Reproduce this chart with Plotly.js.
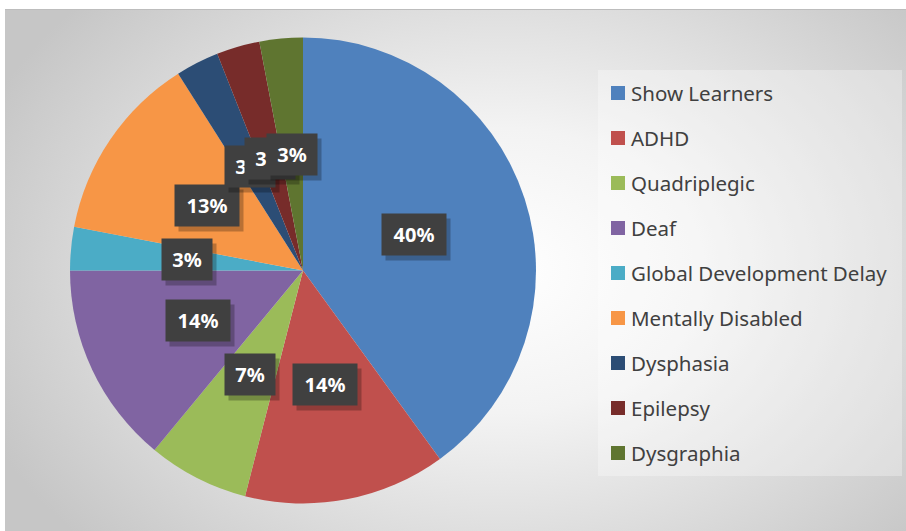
<!DOCTYPE html>
<html>
<head>
<meta charset="utf-8">
<script src="https://cdn.plot.ly/plotly-3.0.1.min.js"></script>
<style>
  html, body { margin: 0; padding: 0; background: #ffffff; }
  #wrap { position: relative; width: 906px; height: 531px; overflow: hidden; background: #ffffff; }
  #bg { position: absolute; left: 5px; top: 9px; width: 901px; height: 522px;
        border-top: 1px solid #bdbdbd; box-sizing: border-box;
        background: radial-gradient(ellipse 62% 78% at 55% 50%, #ffffff 0%, #f3f3f3 35%, #c6c6c6 100%); }
  #chart { position: absolute; left: 0; top: 0; width: 906px; height: 531px; }
</style>
</head>
<body>
<div id="wrap">
  <div id="bg"></div>
  <div id="chart"></div>
</div>
<script>
// ---- data ----
const categories = ["Show Learners", "ADHD", "Quadriplegic", "Deaf", "Global Development Delay",
                    "Mentally Disabled", "Dysphasia", "Epilepsy", "Dysgraphia"];
const values = [40, 14, 7, 14, 3, 13, 3, 3, 3];
const dataLabels = ["40%", "14%", "7%", "14%", "3%", "13%", "3%", "3%", "3%"];
const colors = ["#4F81BD", "#C0504D", "#9BBB59", "#8064A2", "#4BACC6",
                "#F79646", "#2C4D75", "#772C2A", "#5F7530"];

// ---- layout geometry (pixels) ----
const W = 906, H = 531;
const pieLeft = 70, pieRight = 536, pieTop = 37.5, pieBottom = 503.5;
const cx = (pieLeft + pieRight) / 2, cy = (pieTop + pieBottom) / 2;
const R = (pieRight - pieLeft) / 2;
const labelRadius = 0.5;

const trace = {
  type: "pie",
  labels: categories,
  values: values,
  sort: false,
  direction: "clockwise",
  rotation: 0,
  marker: { colors: colors, line: { width: 0 } },
  textinfo: "none",
  hoverinfo: "label+percent",
  showlegend: false,
  domain: { x: [pieLeft / W, pieRight / W], y: [1 - pieBottom / H, 1 - pieTop / H] }
};

const annotations = [];
const shapes = [];
const total = values.reduce((a, b) => a + b, 0);
let cum = 0;
values.forEach((v, i) => {
  const mid = (cum + v / 2) / total * 2 * Math.PI;
  cum += v;
  const px = cx + labelRadius * R * Math.sin(mid);
  const py = cy - labelRadius * R * Math.cos(mid);
  const w = dataLabels[i].length === 2 ? 40 : 54;
  // shadow
  annotations.push({
    xref: "paper", yref: "paper", x: px / W, y: 1 - py / H,
    xanchor: "center", yanchor: "middle",
    text: "", showarrow: false, width: w, height: 31, borderpad: 5,
    bgcolor: "rgba(0,0,0,0.25)", xshift: 4, yshift: -5
  });
  annotations.push({
    xref: "paper", yref: "paper", x: px / W, y: 1 - py / H,
    xanchor: "center", yanchor: "middle",
    text: "<b>" + dataLabels[i] + "</b>", showarrow: false, width: w, height: 31, borderpad: 5,
    bgcolor: "#404040", font: { family: "Noto Sans", size: 20, color: "#ffffff" }
  });
});

// legend (manual, evenly spaced)
const legX0 = 598, legX1 = 902, legY0 = 70, legY1 = 476;
shapes.push({
  type: "rect", xref: "paper", yref: "paper",
  x0: legX0 / W, x1: legX1 / W, y0: 1 - legY1 / H, y1: 1 - legY0 / H,
  fillcolor: "rgba(255,255,255,0.3)", line: { width: 0 }, layer: "below"
});
const legFirst = 93, legStep = 45;
categories.forEach((c, i) => {
  const yc = legFirst + i * legStep;
  shapes.push({
    type: "rect", xref: "paper", yref: "paper",
    x0: 611 / W, x1: 625 / W, y0: 1 - (yc + 7) / H, y1: 1 - (yc - 7) / H,
    fillcolor: colors[i], line: { width: 0 }
  });
  annotations.push({
    xref: "paper", yref: "paper", x: 629 / W, y: 1 - yc / H,
    xanchor: "left", yanchor: "middle", showarrow: false, text: c,
    font: { family: "Noto Sans", size: 20.5, color: "#404040" }
  });
});

const layout = {
  width: W, height: H,
  margin: { l: 0, r: 0, t: 0, b: 0 },
  paper_bgcolor: "rgba(0,0,0,0)",
  plot_bgcolor: "rgba(0,0,0,0)",
  showlegend: false,
  annotations: annotations,
  shapes: shapes
};

Plotly.newPlot("chart", [trace], layout, { displayModeBar: false, staticPlot: true });
</script>
</body>
</html>
